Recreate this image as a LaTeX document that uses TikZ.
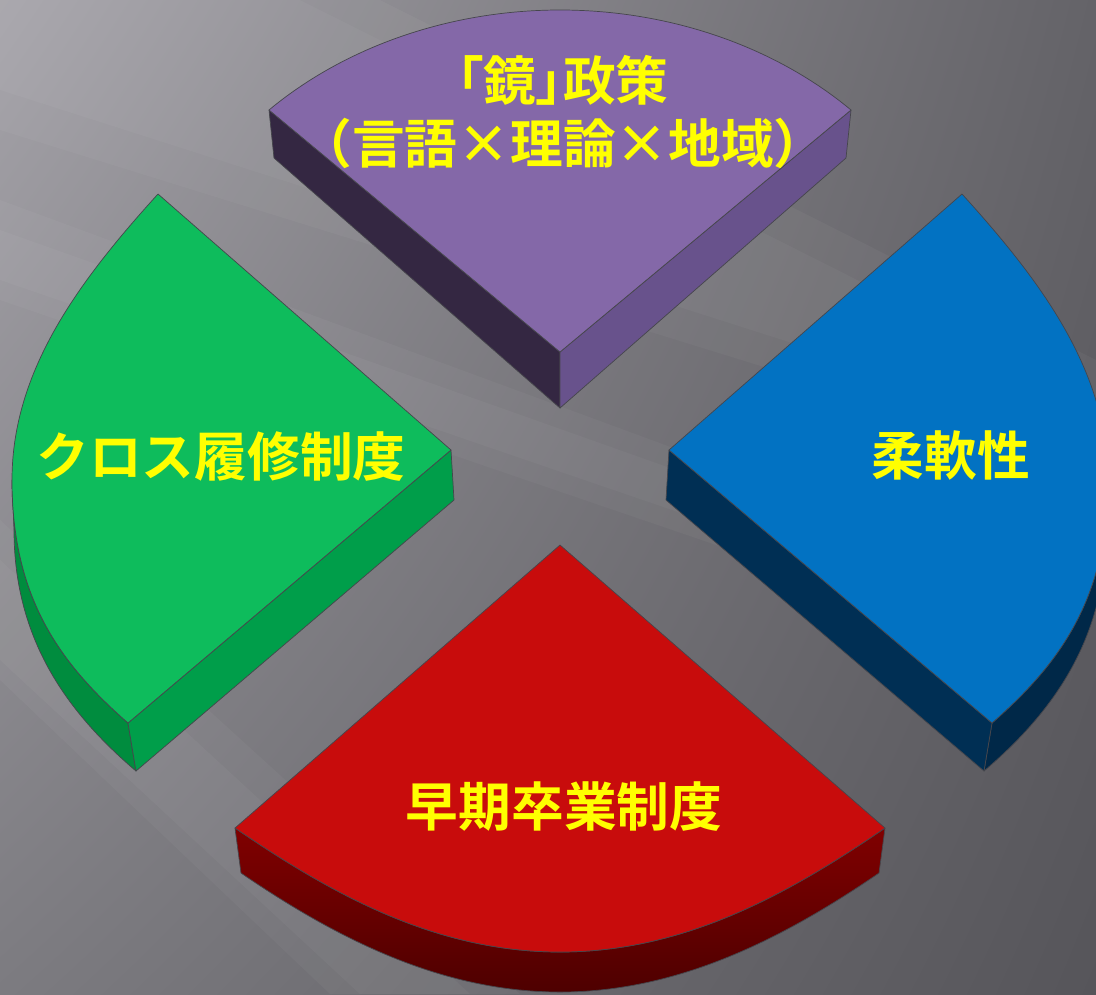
\documentclass[tikz,border=0pt]{standalone}
\usepackage{fontspec}
\usepackage{tikz}
\usetikzlibrary{positioning, shadings}

\newfontfamily\jpfont{Noto Sans CJK JP}[BoldFont={Noto Sans CJK JP Bold}]
\newfontfamily\jpfontp{Noto Sans CJK JP}[BoldFont={Noto Sans CJK JP Bold}, RawFeature=+palt]

\definecolor{bgTL}{RGB}{164,162,168}
\definecolor{bgTR}{RGB}{100,99,104}
\definecolor{bgBL}{RGB}{124,123,128}
\definecolor{bgBR}{RGB}{86,85,90}
\definecolor{edgegray}{RGB}{70,70,76}
\definecolor{labelyellow}{RGB}{255,255,0}
\definecolor{purpleTop}{RGB}{132,104,168}
\definecolor{purpleLeft}{RGB}{52,39,66}
\definecolor{purpleRight}{RGB}{104,82,140}
\definecolor{greenTop}{RGB}{14,188,92}
\definecolor{greenArc}{RGB}{0,140,62}
\definecolor{greenSide}{RGB}{0,158,74}
\definecolor{blueTop}{RGB}{2,114,194}
\definecolor{blueArc}{RGB}{0,40,72}
\definecolor{blueSide}{RGB}{0,47,84}
\definecolor{redTop}{RGB}{200,12,12}
\definecolor{redSideHi}{RGB}{128,0,0}
\definecolor{redSideLo}{RGB}{78,0,0}

\begin{document}
\begin{tikzpicture}[
    x=0.2mm, y=-0.2mm,
    edge/.style={draw=edgegray, line width=0.4pt, line join=round},
    streak/.style={white, opacity=0.035},
    lbl/.style={text=labelyellow, inner sep=0pt, align=center,
        font=\jpfont\bfseries\fontsize{30}{35.5}\selectfont}
]
\useasboundingbox (0,0) rectangle (1096,994);
\clip (0,0) rectangle (1096,994);

% 背景
\shade[upper left=bgTL, upper right=bgTR, lower left=bgBL, lower right=bgBR]
    (0,0) rectangle (1096,994);
\fill[streak] (0,0) -- (380,0) -- (1096,360) -- (1096,470) -- (0,130) -- cycle;
\fill[streak] (0,0) -- (300,0) -- (1096,400) -- (1096,440) -- (0,90) -- cycle;
\fill[streak] (0,200) -- (0,300) -- (760,560) -- (760,480) -- cycle;
\fill[streak] (0,230) -- (0,280) -- (760,540) -- (760,500) -- cycle;
\fill[streak] (0,520) -- (0,680) -- (330,994) -- (520,994) -- cycle;
\fill[streak] (0,560) -- (0,660) -- (360,994) -- (470,994) -- cycle;

% 上 (紫)
\fill[purpleLeft, edge] (269,110) -- (560,352) -- (560,408) -- (274,158) -- cycle;
\fill[purpleRight, edge] (851,110) -- (560,352) -- (560,408) -- (846,158) -- cycle;
\fill[purpleTop, edge] (560,352) -- (269,110) .. controls (346,46) and (451,10) .. (560,10)
    .. controls (669,10) and (774,46) .. (851,110) -- cycle;

% 左 (緑)
\fill[greenArc, edge] (12,480) .. controls (12,600) and (62,665) .. (128,723) -- (136,771)
    .. controls (68,713) and (14,640) .. (14,530) -- cycle;
\fill[greenSide, edge] (128,723) -- (451,450) -- (454,500) -- (136,771) -- cycle;
\fill[greenTop, edge] (451,450) -- (158,194) .. controls (80,280) and (12,370) .. (12,480)
    .. controls (12,600) and (62,665) .. (128,723) -- cycle;

% 右 (青)
\fill[blueArc, edge] (1108,480) .. controls (1108,600) and (1058,665) .. (992,723) -- (984,771)
    .. controls (1052,713) and (1106,640) .. (1106,530) -- cycle;
\fill[blueSide, edge] (992,723) -- (669,450) -- (666,500) -- (984,771) -- cycle;
\fill[blueTop, edge] (669,450) -- (962,194) .. controls (1040,280) and (1108,370) .. (1108,480)
    .. controls (1108,600) and (1058,665) .. (992,723) -- cycle;

% 下 (赤)
\path[edge, top color=redSideHi, bottom color=redSideLo]
    (235,828) .. controls (330,893) and (435,952) .. (560,952)
    .. controls (685,952) and (790,893) .. (885,828) -- (879,873)
    .. controls (784,938) and (679,992) .. (560,992)
    .. controls (441,992) and (336,938) .. (241,873) -- cycle;
\fill[redTop, edge] (560,545) -- (235,828) .. controls (330,893) and (435,952) .. (560,952)
    .. controls (685,952) and (790,893) .. (885,828) -- cycle;

% ラベル
\node[lbl] (mirror) at (563,112) {{\jpfontp 「鏡」政策}\\（言語×理論×地域）};
\node[lbl] (cross) at (221,457) {クロス履修制度};
\node[lbl] (flex) at (951,455) {柔軟性};
\node[lbl] (early) at (564,807) {早期卒業制度};

\end{tikzpicture}
\end{document}
